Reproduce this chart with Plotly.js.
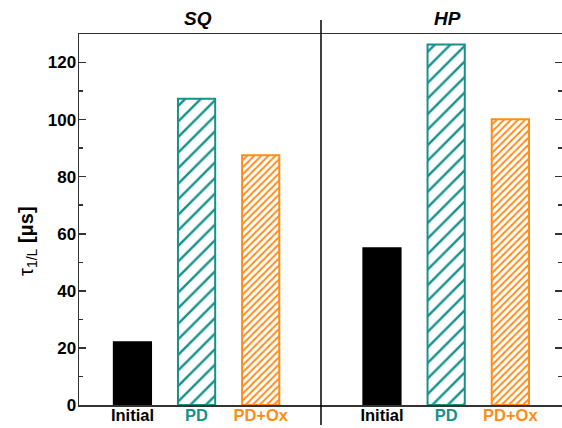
<!DOCTYPE html>
<html>
<head>
<meta charset="utf-8">
<script src="https://cdn.plot.ly/plotly-3.0.1.min.js"></script>
<style>html,body{margin:0;padding:0;background:#fff;overflow:hidden}</style>
</head>
<body>
<div id="chart" style="width:562px;height:428px"></div>
<script>
// ---- data ----
const categories = ['Initial', 'PD', 'PD+Ox'];
const sqValues = [22.0, 107.3, 87.5];
const hpValues = [54.9, 126.3, 100.1];
const panelTitles = ['SQ', 'HP'];
const yTicks = [0, 20, 40, 60, 80, 100, 120];

// ---- styles ----
const teal = '#17918C';
const orange = '#FF8C1A';
const barColors = ['#000000', teal, orange];
const fillColors = ['#000000', '#ffffff', '#ffffff'];
const patternShapes = ['', '/', '/'];
const patternSizes = [8, 11, 5];
const patternSolidity = [0.2, 0.22, 0.4];
const font = 'Arial, "Liberation Sans", sans-serif';
const axisColor = '#333333';

const tickText = categories.map((c, i) =>
  '<span style="color:' + barColors[i] + '">' + c + '</span>');

function barTraces(values, xa, ya) {
  return categories.map((c, i) => {
    const marker = {
      color: fillColors[i],
      line: {color: barColors[i], width: 2}
    };
    if (patternShapes[i]) {
      marker.pattern = {
        shape: patternShapes[i],
        fgcolor: barColors[i],
        bgcolor: fillColors[i],
        size: patternSizes[i],
        solidity: patternSolidity[i]
      };
    }
    return {
      type: 'bar',
      x: [c],
      y: [values[i]],
      xaxis: xa,
      yaxis: ya,
      width: 0.58,
      marker: marker,
      showlegend: false
    };
  });
}

const data = barTraces(sqValues, 'x', 'y').concat(barTraces(hpValues, 'x2', 'y2'));

const split = (321 - 79) / 483;

const xCommon = {
  type: 'category',
  categoryorder: 'array',
  categoryarray: categories,
  showline: true,
  linecolor: axisColor,
  linewidth: 1.5,
  mirror: true,
  ticks: '',
  showgrid: false,
  zeroline: false,
  tickmode: 'array',
  tickvals: categories,
  ticktext: tickText,
  ticklabelstandoff: -5,
  tickfont: {family: font, size: 16.5, weight: 'bold', color: '#000'},
  fixedrange: true
};

const yCommon = {
  range: [0, 130],
  tickmode: 'array',
  tickvals: yTicks,
  ticks: 'inside',
  ticklen: 7,
  tickwidth: 1.5,
  tickcolor: axisColor,
  minor: {dtick: 10, ticks: 'inside', ticklen: 4, tickwidth: 1.5, tickcolor: axisColor},
  showgrid: false,
  zeroline: false,
  tickfont: {family: font, size: 17, weight: 'bold', color: '#000'},
  fixedrange: true
};

const layout = {
  width: 562,
  height: 428,
  margin: {l: 79, r: 0, t: 34, b: 23},
  paper_bgcolor: '#ffffff',
  plot_bgcolor: '#ffffff',
  barmode: 'overlay',
  xaxis: Object.assign({}, xCommon, {domain: [0, split], range: [-0.833, 2.94], anchor: 'y'}),
  xaxis2: Object.assign({}, xCommon, {domain: [split, 1], range: [-0.95, 2.805], anchor: 'y2'}),
  yaxis: Object.assign({}, yCommon, {anchor: 'x', showline: true, linecolor: axisColor, linewidth: 1.5, ticklabelstandoff: -2}),
  yaxis2: Object.assign({}, yCommon, {anchor: 'x2', side: 'right', showline: false, showticklabels: false}),
  shapes: [{
    type: 'line', xref: 'paper', yref: 'paper',
    x0: split, x1: split, y0: -20 / 371, y1: 1 + 14 / 371,
    line: {color: '#000', width: 1.5}
  }],
  annotations: [
    {text: '<b><i>' + panelTitles[0] + '</i></b>', xref: 'paper', yref: 'paper',
     x: (197.5 - 79) / 483, y: 1 + (34 - 18.5) / 371, xanchor: 'center', yanchor: 'middle',
     showarrow: false, font: {family: font, size: 19, color: '#000'}},
    {text: '<b><i>' + panelTitles[1] + '</i></b>', xref: 'paper', yref: 'paper',
     x: (447.7 - 79) / 483, y: 1 + (34 - 18.5) / 371, xanchor: 'center', yanchor: 'middle',
     showarrow: false, font: {family: font, size: 19, color: '#000'}},
    {text: 'τ<sub>1/L</sub> <b>[μs]</b>', xref: 'paper', yref: 'paper',
     x: (27 - 79) / 483, y: (405 - 241) / 371, xanchor: 'center', yanchor: 'middle',
     textangle: -90, showarrow: false, font: {family: font, size: 20, color: '#000'}}
  ]
};

Plotly.newPlot('chart', data, layout, {displayModeBar: false, staticPlot: true});
</script>
</body>
</html>
